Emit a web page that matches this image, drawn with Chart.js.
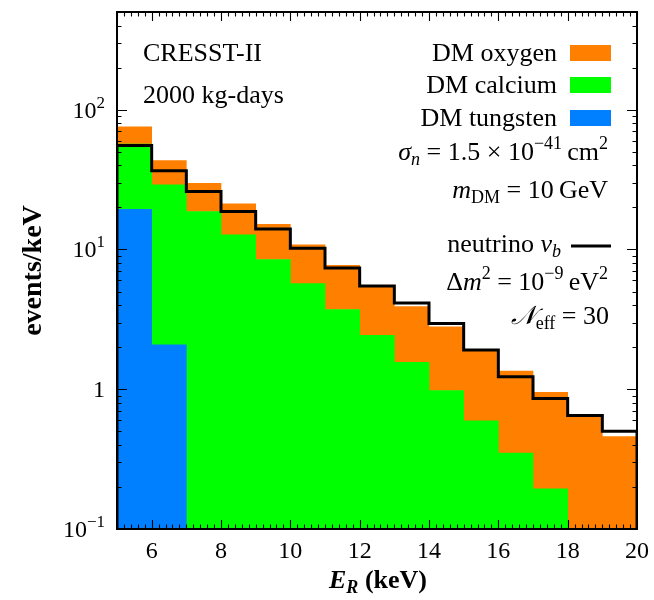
<!DOCTYPE html>
<html><head><meta charset="utf-8">
<script src="https://cdn.jsdelivr.net/npm/chart.js@4.4.1/dist/chart.umd.min.js"></script>
<style>html,body{margin:0;padding:0;background:#fff;}</style>
</head><body>
<canvas id="c" width="654" height="600" style="display:block;width:654px;height:600px"></canvas>
<script>
// ---- data ----
const binEdges = [5,6,7,8,9,10,11,12,13,14,15,16,17,18,19,20];
const tungsten = [19.4, 2.08, 0, 0, 0, 0, 0, 0, 0, 0, 0, 0, 0, 0, 0];
const calcium  = [37.4, 26.9, 18.7, 12.7, 8.47, 5.69, 3.72, 2.43, 1.56, 0.98, 0.595, 0.350, 0.194, 0, 0];
const oxygen   = [18.7, 14.2, 11.0, 8.5, 6.63, 5.11, 3.99, 3.11, 2.35, 1.81, 1.30, 1.00, 0.756, 0.639, 0.459];
const neutrino = [55.4, 36.6, 26.0, 18.7, 14.0, 10.2, 7.38, 5.48, 4.14, 2.95, 1.91, 1.23, 0.859, 0.650, 0.501];
const xTickValues = [6, 8, 10, 12, 14, 16, 18, 20];
const xTickLabels = ['6', '8', '10', '12', '14', '16', '18', '20'];
const yTickValues = [0.1, 1, 10, 100];
const yTickBase = ['10', '1', '10', '10'];
const yTickExp  = ['\u22121', '', '1', '2'];
const yMin = 0.1, yMax = 500;
const seriesNames = ['DM oxygen', 'DM calcium', 'DM tungsten'];
const lineName = 'neutrino';

const COL_O = '#FF8000', COL_C = '#00FF00', COL_W = '#0080FF';
const SERIF = '"Liberation Serif", "DejaVu Serif", serif';

const centers = binEdges.slice(0, -1).map(e => e + 0.5);
const toXY = arr => arr.map((v, i) => ({x: centers[i], y: v}));
const stepPts = [{x: binEdges[0], y: yMin}];
neutrino.forEach((v, i) => stepPts.push({x: binEdges[i], y: v}));
stepPts.push({x: binEdges[binEdges.length - 1], y: neutrino[neutrino.length - 1]});
stepPts.push({x: binEdges[binEdges.length - 1], y: yMin});

function fontStr(style, size) {
  const it = style.includes('i') ? 'italic ' : '';
  const bd = style.includes('b') ? 'bold ' : '';
  return it + bd + size + 'px ' + SERIF;
}
function rich(ctx, segs, x, yb, align) {
  let w = 0;
  for (const s of segs) { ctx.font = fontStr(s[1], s[2]); w += ctx.measureText(s[0]).width; }
  let cx = align === 'right' ? x - w : (align === 'center' ? x - w / 2 : x);
  ctx.textAlign = 'left'; ctx.textBaseline = 'alphabetic';
  for (const s of segs) {
    ctx.font = fontStr(s[1], s[2]);
    ctx.fillText(s[0], cx, yb + (s[3] || 0));
    cx += ctx.measureText(s[0]).width;
  }
}

const M = 26, S = 18, UP = -11, DN = 5;

const deco = {
  id: 'deco',
  afterDraw(chart) {
    const {ctx, chartArea: a, scales: {x, y}} = chart;
    ctx.save();
    ctx.strokeStyle = '#000';
    ctx.lineWidth = 1.1;
    ctx.beginPath();
    // x ticks (top & bottom, inward)
    for (let k = 25; k <= 100; k++) {
      const v = k / 5;
      const major = (k % 10 === 0);
      const len = major ? 9 : 4.5;
      const px = Math.round(x.getPixelForValue(v)) + 0.5;
      ctx.moveTo(px, a.bottom); ctx.lineTo(px, a.bottom - len);
      ctx.moveTo(px, a.top); ctx.lineTo(px, a.top + len);
    }
    // y ticks (left & right, inward)
    for (let d = -1; d <= 2; d++) {
      for (let m = 1; m <= 9; m++) {
        const v = m * Math.pow(10, d);
        if (v < yMin * 0.999 || v > yMax * 1.001) continue;
        const len = m === 1 ? 10 : 4.5;
        const py = Math.round(y.getPixelForValue(v)) + 0.5;
        ctx.moveTo(a.left, py); ctx.lineTo(a.left + len, py);
        ctx.moveTo(a.right, py); ctx.lineTo(a.right - len, py);
      }
    }
    ctx.stroke();
    // frame
    ctx.lineWidth = 2;
    ctx.strokeRect(a.left, a.top, a.right - a.left, a.bottom - a.top);

    ctx.fillStyle = '#000';
    // y tick labels (with superscripts), placed by the y scale
    yTickValues.forEach((v, i) => {
      const py = y.getPixelForValue(v);
      const segs = [[yTickBase[i], 'r', 24]];
      if (yTickExp[i]) segs.push([yTickExp[i], 'r', 17, -10]);
      rich(ctx, segs, a.left - 12, py + 8, 'right');
    });
    // left annotations
    rich(ctx, [['CRESST-II', 'r', M]], 143, 61, 'left');
    rich(ctx, [['2000 kg-days', 'r', M]], 143, 103, 'left');
    // legend entries
    const legCols = [COL_O, COL_C, COL_W];
    const legBase = [61, 93, 126];
    seriesNames.forEach((n, i) => {
      ctx.fillStyle = '#000';
      rich(ctx, [[n, 'r', M]], 557, legBase[i], 'right');
      ctx.fillStyle = legCols[i];
      ctx.fillRect(570, legBase[i] - 16, 41, 16);
    });
    ctx.fillStyle = '#000';
    rich(ctx, [['σ', 'i', M], ['n', 'i', S, DN], [' = 1.5 × 10', 'r', M], ['−41', 'r', S, UP], ['\u2009cm', 'r', M], ['2', 'r', S, UP]], 608, 160, 'right');
    rich(ctx, [['m', 'i', M], ['DM', 'r', S, DN], [' = 10\u2009GeV', 'r', M]], 608, 198, 'right');
    rich(ctx, [[lineName + ' ', 'r', M], ['ν', 'i', M], ['b', 'i', S, DN]], 561, 252, 'right');
    ctx.strokeStyle = '#000'; ctx.lineWidth = 3;
    ctx.beginPath(); ctx.moveTo(571, 246); ctx.lineTo(611, 246); ctx.stroke();
    rich(ctx, [['Δ', 'r', M], ['m', 'i', M], ['2', 'r', S, UP], [' = 10', 'r', M], ['−9', 'r', S, UP], ['\u2009eV', 'r', M], ['2', 'r', S, UP]], 608, 290, 'right');
    rich(ctx, [['𝒩', 'i', M], ['eff', 'r', S, DN], [' = 30', 'r', M]], 609, 324, 'right');
    // x axis title
    rich(ctx, [['E', 'bi', 26], ['R', 'bi', 18, DN], [' (keV)', 'b', 26]], 378, 588, 'center');
    ctx.restore();
  }
};

new Chart(document.getElementById('c'), {
  type: 'bar',
  data: {
    datasets: [
      {type: 'line', label: lineName, data: stepPts, stepped: true, borderColor: '#000', borderWidth: 3,
       pointRadius: 0, fill: false, stack: 'nu', order: -1, borderJoinStyle: 'miter'},
      {label: seriesNames[2], data: toXY(tungsten), backgroundColor: COL_W, stack: 'dm', barPercentage: 1, categoryPercentage: 1, borderWidth: 0},
      {label: seriesNames[1], data: toXY(calcium), backgroundColor: COL_C, stack: 'dm', barPercentage: 1, categoryPercentage: 1, borderWidth: 0},
      {label: seriesNames[0], data: toXY(oxygen), backgroundColor: COL_O, stack: 'dm', barPercentage: 1, categoryPercentage: 1, borderWidth: 0}
    ]
  },
  options: {
    responsive: false,
    animation: false,
    devicePixelRatio: 1,
    layout: {padding: {top: 12, right: 17, left: 0, bottom: 0}},
    plugins: {legend: {display: false}, tooltip: {enabled: false}},
    scales: {
      x: {
        type: 'linear', min: 5, max: 20, offset: false, stacked: true,
        grid: {display: false, drawTicks: false}, border: {display: false},
        ticks: {font: {family: SERIF, size: 24}, color: '#000', padding: 8, maxRotation: 0, autoSkip: false,
                callback: v => xTickLabels[xTickValues.indexOf(v)]},
        afterBuildTicks: s => { s.ticks = xTickValues.map(v => ({value: v})); },
        afterFit: s => { s.height = 71; s.paddingLeft = 0; s.paddingRight = 0; }
      },
      y: {
        type: 'logarithmic', min: yMin, max: yMax, stacked: true,
        grid: {display: false, drawTicks: false}, border: {display: false},
        ticks: {display: false},
        afterBuildTicks: s => { s.ticks = yTickValues.map(v => ({value: v})); },
        afterFit: s => { s.width = 117; s.paddingTop = 0; s.paddingBottom = 0; },
        title: {display: true, text: 'events/keV', color: '#000', font: {family: SERIF, size: 28, weight: 'bold'}, padding: {top: 17, bottom: 0}}
      }
    }
  },
  plugins: [deco]
});
</script>
</body></html>
